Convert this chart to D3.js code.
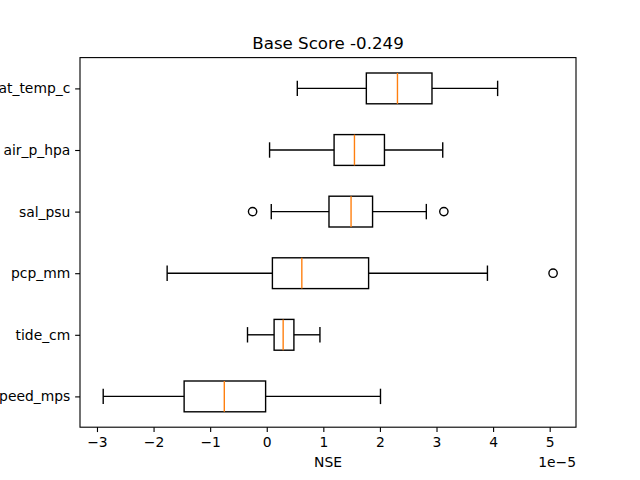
<!DOCTYPE html>
<html>
<head>
<meta charset="utf-8">
<script src="https://cdn.jsdelivr.net/npm/d3@7"></script>
<style>
  body { margin: 0; background: #fff; }
  svg { display: block; font-family: "DejaVu Sans", sans-serif; }
</style>
</head>
<body>
<svg id="chart" width="640" height="480"></svg>
<script>
// Feature names, bottom to top (position 1..6)
const features = ["wind_speed_mps", "tide_cm", "pcp_mm", "sal_psu", "air_p_hpa", "wat_temp_c"];

// box stats in NSE units (x 1e-5)
const whiskerLo = [-2.89, -0.34, -1.76, 0.08, 0.05, 0.54];
const q1 = [-1.46, 0.13, 0.10, 1.10, 1.19, 1.76];
const median = [-0.75, 0.29, 0.62, 1.49, 1.55, 2.31];
const q3 = [-0.02, 0.48, 1.80, 1.87, 2.08, 2.92];
const whiskerHi = [2.01, 0.94, 3.90, 2.82, 3.11, 4.08];
const fliers = [[], [], [5.06], [-0.25, 3.13], [], []];

const xTicks = [-3, -2, -1, 0, 1, 2, 3, 4, 5];
const SCALE = 1e-5;

const PLOT_L = 80, PLOT_R = 576, PLOT_T = 57.6, PLOT_B = 427.2;
const BOX_W = 0.5;
const PT = 100 / 72; // px per point
const FONT = 10 * PT;
const TICK = 3.5 * PT;

const svg = d3.select("#chart");

const x = d3.scaleLinear().domain([-3.3, 5.465]).range([PLOT_L, PLOT_R]);
const y = d3.scaleLinear().domain([0.5, 6.5]).range([PLOT_B, PLOT_T]);
const bh = (y(0) - y(BOX_W)) / 2; // half box height
const ch = bh / 2; // half cap

const boxes = features.map((name, i) => ({
  name,
  pos: i + 1,
  lo: whiskerLo[i] * SCALE,
  q1: q1[i] * SCALE,
  med: median[i] * SCALE,
  q3: q3[i] * SCALE,
  hi: whiskerHi[i] * SCALE,
  out: fliers[i].map((v) => v * SCALE)
}));

const xs = (v) => x(v / SCALE);

const g = svg.append("g")
  .attr("fill", "none")
  .attr("stroke", "#000")
  .attr("stroke-width", PT);

const b = g.selectAll("g.box").data(boxes).join("g").attr("class", "box");

// whiskers
b.append("line")
  .attr("x1", (d) => xs(d.lo)).attr("x2", (d) => xs(d.q1))
  .attr("y1", (d) => y(d.pos)).attr("y2", (d) => y(d.pos));
b.append("line")
  .attr("x1", (d) => xs(d.q3)).attr("x2", (d) => xs(d.hi))
  .attr("y1", (d) => y(d.pos)).attr("y2", (d) => y(d.pos));
// caps
b.append("line")
  .attr("x1", (d) => xs(d.lo)).attr("x2", (d) => xs(d.lo))
  .attr("y1", (d) => y(d.pos) - ch).attr("y2", (d) => y(d.pos) + ch);
b.append("line")
  .attr("x1", (d) => xs(d.hi)).attr("x2", (d) => xs(d.hi))
  .attr("y1", (d) => y(d.pos) - ch).attr("y2", (d) => y(d.pos) + ch);
// box
b.append("rect")
  .attr("x", (d) => xs(d.q1))
  .attr("width", (d) => xs(d.q3) - xs(d.q1))
  .attr("y", (d) => y(d.pos) - bh)
  .attr("height", bh * 2);
// median
b.append("line")
  .attr("stroke", "#ff7f0e")
  .attr("x1", (d) => xs(d.med)).attr("x2", (d) => xs(d.med))
  .attr("y1", (d) => y(d.pos) - bh).attr("y2", (d) => y(d.pos) + bh);
// fliers
b.selectAll("circle")
  .data((d) => d.out.map((v) => ({ v, pos: d.pos })))
  .join("circle")
  .attr("cx", (d) => xs(d.v))
  .attr("cy", (d) => y(d.pos))
  .attr("r", 3 * PT);

// axes
const xAxis = svg.append("g")
  .attr("transform", `translate(0,${PLOT_B})`)
  .call(d3.axisBottom(x).tickValues(xTicks).tickSize(TICK).tickPadding(TICK).tickFormat(d3.format("d")));
xAxis.select(".domain").remove();
xAxis.selectAll("line").attr("stroke-width", 0.8 * PT);
xAxis.selectAll("text").attr("font-size", FONT).attr("fill", "#000").attr("font-family", "DejaVu Sans");

const yAxis = svg.append("g")
  .attr("transform", `translate(${PLOT_L},0)`)
  .call(d3.axisLeft(y).tickValues(boxes.map((d) => d.pos)).tickSize(TICK).tickPadding(TICK)
    .tickFormat((d) => features[d - 1]));
yAxis.select(".domain").remove();
yAxis.selectAll("line").attr("stroke-width", 0.8 * PT);
yAxis.selectAll("text").attr("font-size", FONT).attr("fill", "#000").attr("font-family", "DejaVu Sans");

// frame
svg.append("rect")
  .attr("x", PLOT_L).attr("y", PLOT_T)
  .attr("width", PLOT_R - PLOT_L).attr("height", PLOT_B - PLOT_T)
  .attr("fill", "none").attr("stroke", "#000").attr("stroke-width", 0.8 * PT);

// title & labels
svg.append("text")
  .attr("x", (PLOT_L + PLOT_R) / 2).attr("y", 49)
  .attr("text-anchor", "middle").attr("font-size", 12 * PT)
  .text("Base Score -0.249");

svg.append("text")
  .attr("x", (PLOT_L + PLOT_R) / 2).attr("y", 467)
  .attr("text-anchor", "middle").attr("font-size", FONT)
  .text("NSE");

svg.append("text")
  .attr("x", PLOT_R).attr("y", 467)
  .attr("text-anchor", "end").attr("font-size", FONT)
  .text("1e\u22125");
</script>
</body>
</html>
